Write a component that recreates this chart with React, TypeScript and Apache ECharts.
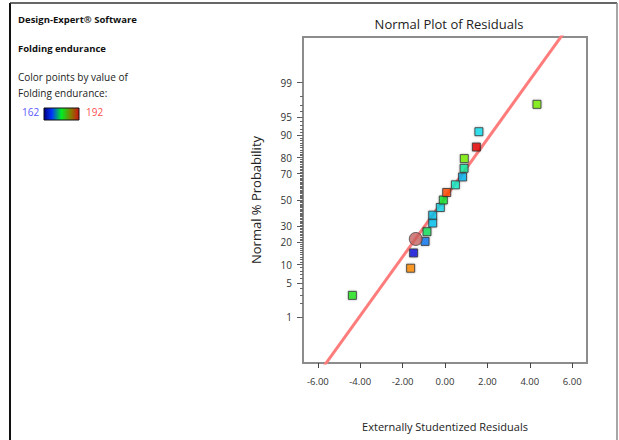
import React, { useEffect, useRef } from "react";
import * as echarts from "echarts";

// ---- data ----
const residuals = [-4.37, -1.62, -1.48, -0.94, -0.85, -0.58, -0.58, -0.22, -0.08, 0.08, 0.49, 0.83, 0.9, 0.91, 1.48, 1.6, 4.34];
const probabilities = [2.94, 8.82, 14.7, 20.6, 26.5, 32.4, 38.2, 44.1, 50.0, 55.9, 61.8, 67.6, 73.5, 79.4, 85.3, 91.2, 97.1];
const pointColors = [
  "#22e61c", "#ff8a00", "#0a14dc", "#0a78f0", "#12e05a", "#08c4f0", "#08c4f0", "#10d8e8", "#10e830",
  "#ff4a00", "#10f0c8", "#08b4f0", "#10ec9c", "#78f000", "#e60000", "#10e0f0", "#78f000",
];
const highlightResidual = [-1.38];
const highlightProbability = [22.0];
const lineResiduals = [-5.71, 5.57];
const lineProbabilities = [0.05, 99.95];
const xTicks = [-6, -4, -2, 0, 2, 4, 6];
const yMajorTicks = [1, 5, 10, 20, 30, 50, 70, 80, 90, 95, 99];
const yMinorTicks: number[] = [];
for (let p = 1; p <= 99; p++) yMinorTicks.push(p);

// inverse standard normal CDF (Acklam)
function probit(pct: number): number {
  const p = pct / 100;
  const a = [-3.969683028665376e1, 2.209460984245205e2, -2.759285104469687e2, 1.38357751867269e2, -3.066479806614716e1, 2.506628277459239];
  const b = [-5.447609879822406e1, 1.615858368580409e2, -1.556989798598866e2, 6.680131188771972e1, -1.328068155288572e1];
  const c = [-7.784894002430293e-3, -3.223964580411365e-1, -2.400758277161838, -2.549732539343734, 4.374664141464968, 2.938163982698783];
  const d = [7.784695709041462e-3, 3.224671290700398e-1, 2.445134137142996, 3.754408661907416];
  const pl = 0.02425;
  let q: number, r: number;
  if (p < pl) {
    q = Math.sqrt(-2 * Math.log(p));
    return (((((c[0] * q + c[1]) * q + c[2]) * q + c[3]) * q + c[4]) * q + c[5]) / ((((d[0] * q + d[1]) * q + d[2]) * q + d[3]) * q + 1);
  } else if (p <= 1 - pl) {
    q = p - 0.5;
    r = q * q;
    return ((((((a[0] * r + a[1]) * r + a[2]) * r + a[3]) * r + a[4]) * r + a[5]) * q) / (((((b[0] * r + b[1]) * r + b[2]) * r + b[3]) * r + b[4]) * r + 1);
  } else {
    q = Math.sqrt(-2 * Math.log(1 - p));
    return -(((((c[0] * q + c[1]) * q + c[2]) * q + c[3]) * q + c[4]) * q + c[5]) / ((((d[0] * q + d[1]) * q + d[2]) * q + d[3]) * q + 1);
  }
}

const FONT = "'Open Sans', 'Noto Sans', sans-serif";

export default function App() {
  const ref = useRef<HTMLDivElement>(null);
  useEffect(() => {
    if (!ref.current) return;
    const chart = echarts.init(ref.current, undefined, { renderer: "svg" });
    const majorZ = yMajorTicks.map(probit);
    const minorZ = yMinorTicks.map(probit);
    const labelFor = (v: number) => {
      let best = 0;
      let bd = Infinity;
      majorZ.forEach((z, i) => {
        const dd = Math.abs(z - v);
        if (dd < bd) { bd = dd; best = i; }
      });
      return String(yMajorTicks[best]);
    };
    const pts = residuals.map((r, i) => ({
      value: [r, probit(probabilities[i])],
      itemStyle: { color: pointColors[i] },
    }));
    const option: any = {
      animation: false,
      textStyle: { fontFamily: FONT },
      grid: { left: 303, top: 37, width: 284, height: 326, show: true, borderColor: "#8c8c8c", borderWidth: 2, backgroundColor: "transparent" },
      title: {
        text: "Normal Plot of Residuals",
        left: 444,
        top: 12,
        textAlign: "center",
        textStyle: { fontFamily: FONT, fontSize: 13, fontWeight: "normal", color: "#222" },
      },
      xAxis: {
        type: "value",
        min: -6.7,
        max: 6.7,
        name: "Externally Studentized Residuals",
        nameLocation: "middle",
        nameGap: 58,
        nameTextStyle: { fontFamily: FONT, fontSize: 11, color: "#222" },
        axisLine: { show: false, onZero: false },
        splitLine: { show: false },
        axisTick: { show: true, customValues: xTicks, length: 5, lineStyle: { color: "#444" } },
        axisLabel: {
          customValues: xTicks,
          formatter: (v: number) => v.toFixed(2),
          fontFamily: FONT,
          fontSize: 9.5,
          color: "#333",
          margin: 13,
        },
      },
      yAxis: [
        {
          type: "value",
          min: -3.23,
          max: 3.23,
          name: "Normal % Probability",
          nameLocation: "middle",
          nameGap: 41,
          nameTextStyle: { fontFamily: FONT, fontSize: 13, color: "#222" },
          axisLine: { show: false, onZero: false },
          splitLine: { show: false },
          axisTick: { show: true, customValues: majorZ, length: 6, lineStyle: { color: "#555" } },
          axisLabel: { customValues: majorZ, formatter: (v: number) => labelFor(v), fontFamily: FONT, fontSize: 10, color: "#333", margin: 11 },
        },
        {
          type: "value",
          min: -3.23,
          max: 3.23,
          position: "left",
          axisLine: { show: false, onZero: false },
          splitLine: { show: false },
          axisTick: { show: true, customValues: minorZ, length: 3, lineStyle: { color: "#666" } },
          axisLabel: { show: false },
        },
      ],
      graphic: [
        { type: "line", shape: { x1: 10, y1: 3, x2: 10, y2: 440 }, style: { stroke: "#111", lineWidth: 2 } },
        { type: "line", shape: { x1: 10, y1: 3, x2: 617, y2: 3 }, style: { stroke: "#333", lineWidth: 1.5 } },
        { type: "line", shape: { x1: 617, y1: 3, x2: 617, y2: 440 }, style: { stroke: "#888", lineWidth: 1.5 } },
        { type: "text", x: 18, y: 14, style: { text: "Design-Expert® Software", fontFamily: FONT, fontSize: 9.5, fontWeight: "bold", fill: "#111" } },
        { type: "text", x: 18, y: 43, style: { text: "Folding endurance", fontFamily: FONT, fontSize: 9.5, fontWeight: "bold", fill: "#111" } },
        { type: "text", x: 18, y: 72, style: { text: "Color points by value of", fontFamily: FONT, fontSize: 10, fill: "#222" } },
        { type: "text", x: 18, y: 88, style: { text: "Folding endurance:", fontFamily: FONT, fontSize: 10, fill: "#222" } },
        { type: "text", x: 22, y: 107, style: { text: "162", fontFamily: FONT, fontSize: 10, fill: "#5a5aff" } },
        {
          type: "rect",
          shape: { x: 44, y: 108, width: 35, height: 12 },
          style: {
            stroke: "#111",
            lineWidth: 1,
            fill: new echarts.graphic.LinearGradient(0, 0, 1, 0, [
              { offset: 0, color: "#000080" },
              { offset: 0.22, color: "#0033ff" },
              { offset: 0.5, color: "#00ee22" },
              { offset: 0.78, color: "#887700" },
              { offset: 1, color: "#d01010" },
            ]),
          },
        },
        { type: "text", x: 86, y: 107, style: { text: "192", fontFamily: FONT, fontSize: 10, fill: "#ff5050" } },
      ],
      series: [
        {
          type: "line",
          data: lineResiduals.map((r, i) => [r, probit(lineProbabilities[i])]),
          symbol: "none",
          lineStyle: { color: "#ff7c7c", width: 3 },
          clip: true,
          z: 2,
        },
        {
          type: "scatter",
          data: pts,
          symbol: "rect",
          symbolSize: 8,
          itemStyle: { borderColor: "#333", borderWidth: 1, shadowColor: "rgba(0,0,0,0.35)", shadowBlur: 2 },
          z: 3,
        },
        {
          type: "scatter",
          data: highlightResidual.map((r, i) => [r, probit(highlightProbability[i])]),
          symbol: "circle",
          symbolSize: 13,
          itemStyle: { color: "#c4605e", borderColor: "#444", borderWidth: 1 },
          z: 4,
        },
      ],
    };
    chart.setOption(option);
    return () => chart.dispose();
  }, []);
  return <div ref={ref} style={{ position: "fixed", left: 0, top: 0, width: 619, height: 440, background: "#fff" }} />;
}
